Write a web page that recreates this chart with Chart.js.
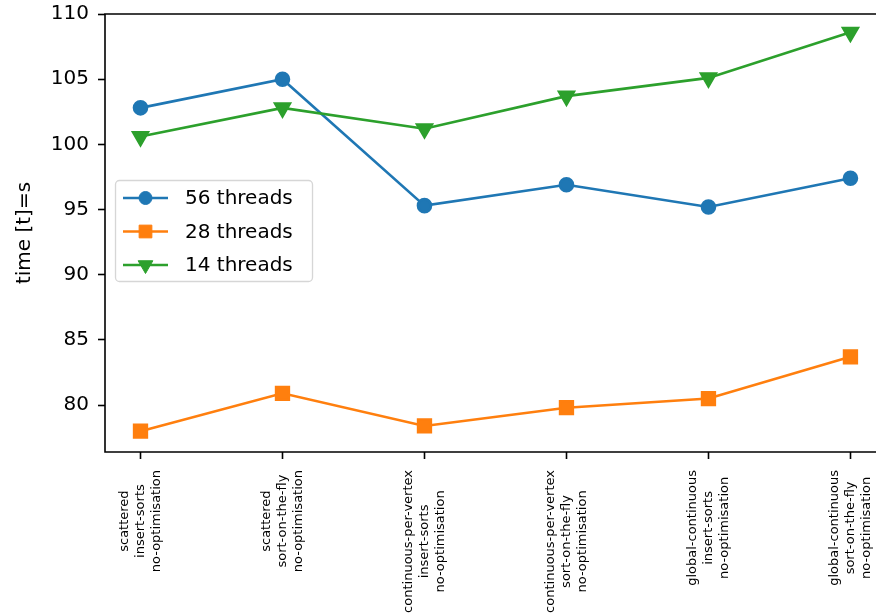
<!DOCTYPE html>
<html>
<head>
<meta charset="utf-8">
<script src="https://cdn.jsdelivr.net/npm/chart.js@4.4.1/dist/chart.umd.min.js"></script>
<style>
html, body { margin: 0; padding: 0; overflow: hidden; background: #fff; }
#timeChart { display: block; }
</style>
</head>
<body>
<canvas id="timeChart" width="876" height="615"></canvas>
<script>
// Categories (x tick labels, one line per entry)
let categories = [
    ['scattered', 'insert-sorts', 'no-optimisation'],
    ['scattered', 'sort-on-the-fly', 'no-optimisation'],
    ['continuous-per-vertex', 'insert-sorts', 'no-optimisation'],
    ['continuous-per-vertex', 'sort-on-the-fly', 'no-optimisation'],
    ['global-continuous', 'insert-sorts', 'no-optimisation'],
    ['global-continuous', 'sort-on-the-fly', 'no-optimisation']
];

// Series values (time in s)
let threads56 = [102.8, 105.0, 95.3, 96.9, 95.2, 97.4];
let threads28 = [78.0, 80.9, 78.4, 79.8, 80.5, 83.7];
let threads14 = [100.6, 102.8, 101.2, 103.7, 105.1, 108.6];

// Y tick labels
let yTicks = [80, 85, 90, 95, 100, 105, 110];

let FONT = 'DejaVu Sans';

function toPoints(values) {
    return values.map(function (v, i) { return { x: i, y: v }; });
}

// Spines: the right one lies past the edge of the picture, so only three are drawn
let framePlugin = {
    id: 'frame',
    afterDraw: function (chart) {
        let ctx = chart.ctx;
        let a = chart.chartArea;
        ctx.save();
        ctx.strokeStyle = '#000';
        ctx.lineWidth = 1.6;
        ctx.beginPath();
        ctx.moveTo(a.right + 2, a.top);
        ctx.lineTo(a.left, a.top);
        ctx.lineTo(a.left, a.bottom);
        ctx.lineTo(a.right + 2, a.bottom);
        ctx.stroke();
        ctx.restore();
    }
};

// Rotated, centre-aligned multi-line x tick labels
let xLabelPlugin = {
    id: 'xLabels',
    afterDraw: function (chart) {
        let ctx = chart.ctx;
        let scale = chart.scales.x;
        let lineHeight = 16;
        ctx.save();
        ctx.font = '13px ' + FONT;
        ctx.fillStyle = '#000';
        ctx.textAlign = 'center';
        ctx.textBaseline = 'middle';
        scale.ticks.forEach(function (tick) {
            let lines = categories[tick.value];
            if (!lines) return;
            let longest = Math.max.apply(null, lines.map(function (l) { return ctx.measureText(l).width; }));
            let px = scale.getPixelForValue(tick.value);
            let top = scale.top + 18;
            ctx.save();
            ctx.translate(px, top + longest / 2);
            ctx.rotate(-Math.PI / 2);
            lines.forEach(function (line, i) {
                ctx.fillText(line, 0, (i - (lines.length - 1) / 2) * lineHeight);
            });
            ctx.restore();
        });
        ctx.restore();
    }
};

// Legend drawn inside the plot, like matplotlib's "best" location
let innerLegendPlugin = {
    id: 'innerLegend',
    afterDraw: function (chart) {
        let ctx = chart.ctx;
        let box = { x: 115.5, y: 180.5, w: 197, h: 101, r: 4 };
        ctx.save();
        ctx.beginPath();
        ctx.roundRect(box.x, box.y, box.w, box.h, box.r);
        ctx.fillStyle = 'rgba(255,255,255,0.8)';
        ctx.fill();
        ctx.strokeStyle = 'rgba(204,204,204,0.8)';
        ctx.lineWidth = 1.3;
        ctx.stroke();

        ctx.font = '20px ' + FONT;
        ctx.textBaseline = 'middle';
        ctx.textAlign = 'left';
        chart.data.datasets.forEach(function (ds, i) {
            let y = 198 + i * 33.5;
            ctx.strokeStyle = ds.borderColor;
            ctx.lineWidth = ds.borderWidth;
            ctx.beginPath();
            ctx.moveTo(123, y);
            ctx.lineTo(168, y);
            ctx.stroke();
            ctx.fillStyle = ds.borderColor;
            ctx.lineWidth = 1;
            Chart.helpers.drawPoint(ctx, {
                pointStyle: ds.pointStyle,
                rotation: ds.pointRotation || 0,
                radius: ds.pointRadius,
                borderWidth: 1
            }, 145.5, y);
            ctx.fillStyle = '#000';
            ctx.fillText(ds.label, 185, y + 1);
        });
        ctx.restore();
    }
};

let ctx = document.getElementById('timeChart').getContext('2d');

let timeChart = new Chart(ctx, {
    type: 'line',
    data: {
        datasets: [
            {
                label: '56 threads',
                data: toPoints(threads56),
                borderColor: '#1f77b4',
                backgroundColor: '#1f77b4',
                pointBackgroundColor: '#1f77b4',
                pointStyle: 'circle',
                pointRadius: 6.5,
                borderWidth: 2.6,
                order: 3
            },
            {
                label: '28 threads',
                data: toPoints(threads28),
                borderColor: '#ff7f0e',
                backgroundColor: '#ff7f0e',
                pointBackgroundColor: '#ff7f0e',
                pointStyle: 'rect',
                pointRadius: 9,
                borderWidth: 2.6,
                order: 2
            },
            {
                label: '14 threads',
                data: toPoints(threads14),
                borderColor: '#2ca02c',
                backgroundColor: '#2ca02c',
                pointBackgroundColor: '#2ca02c',
                pointStyle: 'triangle',
                pointRotation: 180,
                pointRadius: 8.5,
                borderWidth: 2.6,
                order: 1
            }
        ]
    },
    options: {
        responsive: false,
        animation: false,
        layout: {
            autoPadding: false,
            padding: { top: 0, right: 0, left: 0, bottom: 0 }
        },
        elements: {
            line: { tension: 0 },
            point: { borderWidth: 1, hoverRadius: 6.5 }
        },
        plugins: {
            legend: { display: false },
            tooltip: { enabled: false }
        },
        scales: {
            x: {
                type: 'linear',
                // the reference is cropped on the right, so the axis stops short of 5.25
                min: -0.25,
                max: 5.18,
                afterBuildTicks: function (scale) {
                    scale.ticks = categories.map(function (c, i) { return { value: i }; });
                },
                afterFit: function (scale) {
                    scale.height = 163;
                    scale.paddingLeft = 0;
                    scale.paddingRight = 0;
                },
                border: { display: false },
                grid: {
                    drawOnChartArea: false,
                    drawTicks: true,
                    tickLength: 7,
                    tickColor: '#000',
                    tickWidth: 1.6
                },
                ticks: { display: false }
            },
            y: {
                min: 76.4,
                max: 110,
                afterBuildTicks: function (scale) {
                    scale.ticks = yTicks.map(function (v) { return { value: v }; });
                },
                afterFit: function (scale) {
                    scale.width = 105;
                    scale.paddingTop = 14;
                    scale.paddingBottom = 0;
                },
                border: { display: false },
                grid: {
                    drawOnChartArea: false,
                    drawTicks: true,
                    tickLength: 7,
                    tickColor: '#000',
                    tickWidth: 1.6
                },
                ticks: {
                    padding: 9,
                    color: '#000',
                    font: { size: 20, family: FONT }
                },
                title: {
                    display: true,
                    text: 'time [t]=s',
                    color: '#000',
                    padding: { top: 13, bottom: 0 },
                    font: { size: 20, family: FONT }
                }
            }
        }
    },
    plugins: [framePlugin, xLabelPlugin, innerLegendPlugin]
});
</script>
</body>
</html>
